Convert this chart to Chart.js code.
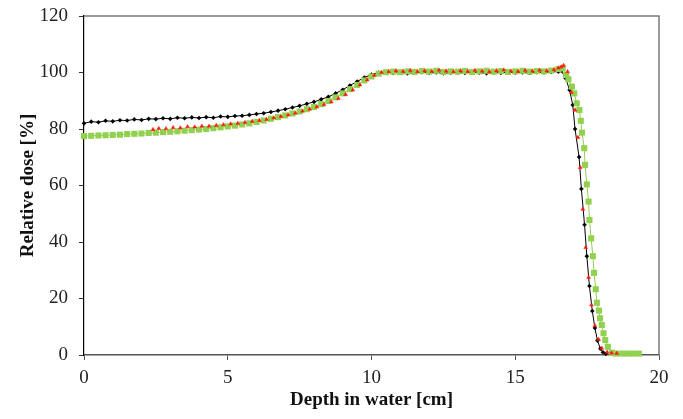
<!DOCTYPE html>
<html>
<head>
<meta charset="utf-8">
<script src="https://cdn.jsdelivr.net/npm/chart.js@4"></script>
<style>
  html, body { margin: 0; padding: 0; background: #fff; }
  #wrap { width: 683px; height: 419px; }
</style>
</head>
<body>
<div id="wrap"><canvas id="myChart" width="683" height="419"></canvas></div>
<script>
// depth [cm] and relative dose [%]
const blackX = [0, 0.25, 0.5, 0.75, 1, 1.25, 1.5, 1.75, 2, 2.25, 2.5, 2.75, 3, 3.25, 3.5, 3.75, 4, 4.25, 4.5, 4.75,
  5, 5.25, 5.5, 5.75, 6, 6.25, 6.5, 6.75, 7, 7.25, 7.5, 7.75, 8, 8.25, 8.5, 8.75, 9, 9.25, 9.5, 9.75,
  10, 10.25, 10.5, 10.75, 11, 11.25, 11.5, 11.75, 12, 12.25, 12.5, 12.75, 13, 13.25, 13.5, 13.75, 14, 14.25, 14.5, 14.75,
  15, 15.25, 15.5, 15.75, 16, 16.25, 16.5, 16.6, 16.75, 16.89, 17, 17.08, 17.22, 17.3, 17.41, 17.49, 17.58, 17.68, 17.77, 17.86,
  17.96, 18.05, 18.15];
const blackY = [82.0, 82.6, 82.4, 82.9, 82.7, 83.1, 83.0, 83.4, 83.2, 83.6, 83.5, 83.8, 83.6, 84.0, 83.8, 84.1, 83.9, 84.2, 84.0, 84.4,
  84.3, 84.6, 84.7, 85.0, 85.3, 85.6, 86.0, 86.5, 87.0, 87.6, 88.2, 88.9, 89.6, 90.5, 91.4, 92.6, 93.9, 95.4, 96.8, 98.2,
  99.3, 100.0, 100.1, 99.8, 100.0, 99.7, 99.9, 100.1, 99.8, 100.0, 99.7, 99.9, 100.0, 99.8, 100.1, 99.9, 99.7, 100.0, 99.8, 100.1,
  99.9, 100.0, 99.8, 100.1, 100.0, 100.2, 100.3, 100.6, 98.0, 93.8, 88.5, 80.0, 70.1, 58.8, 46.1, 35.0, 24.4, 15.6, 9.6, 5.1,
  2.2, 1.0, 0.4];

const greenX = [0, 0.25, 0.5, 0.75, 1, 1.25, 1.5, 1.75, 2, 2.25, 2.5, 2.75, 3, 3.25, 3.5, 3.75, 4, 4.25, 4.5, 4.75,
  5, 5.25, 5.5, 5.75, 6, 6.25, 6.5, 6.75, 7, 7.25, 7.5, 7.75, 8, 8.25, 8.5, 8.75, 9, 9.25, 9.5, 9.75,
  10, 10.25, 10.5, 10.75, 11, 11.25, 11.5, 11.75, 12, 12.25, 12.5, 12.75, 13, 13.25, 13.5, 13.75, 14, 14.25, 14.5, 14.75,
  15, 15.25, 15.5, 15.75, 16, 16.25, 16.5, 16.65, 16.77, 16.85, 16.97, 17.05, 17.14, 17.23, 17.28, 17.32, 17.4, 17.43, 17.49, 17.55,
  17.58, 17.64, 17.7, 17.74, 17.8, 17.84, 17.91, 17.95, 18.01, 18.07, 18.13, 18.22, 18.37, 18.5, 18.7, 18.9, 19.1, 19.3];
const greenY = [77.5, 77.6, 77.7, 77.8, 77.9, 78.0, 78.2, 78.3, 78.4, 78.6, 78.7, 78.9, 79.0, 79.2, 79.4, 79.6, 79.8, 80.0, 80.3, 80.6,
  80.9, 81.2, 81.6, 82.0, 82.5, 83.0, 83.6, 84.2, 84.8, 85.5, 86.2, 87.0, 87.8, 88.8, 89.9, 91.2, 92.6, 94.1, 95.6, 97.2,
  98.6, 99.6, 100.1, 100.3, 100.1, 100.4, 100.2, 100.5, 100.3, 100.6, 100.2, 100.4, 100.3, 100.5, 100.2, 100.4, 100.6, 100.3, 100.5, 100.2,
  100.4, 100.6, 100.3, 100.5, 100.4, 100.7, 101.2, 101.5, 99.1, 97.6, 95.0, 92.6, 89.1, 86.7, 82.9, 78.7, 73.2, 67.3, 60.4, 54.3,
  47.8, 41.3, 35.0, 29.1, 23.3, 18.5, 15.7, 13.0, 10.6, 7.7, 5.3, 2.9, 0.8, 0.5, 0.5, 0.5, 0.5, 0.5];

const redX = [2.4, 2.6, 2.85, 3.1, 3.35, 3.6, 3.85, 4.1, 4.35, 4.6, 4.85, 5.1, 5.35, 5.6, 5.85, 6.1, 6.35, 6.6, 6.85,
  7.1, 7.35, 7.6, 7.85, 8.1, 8.35, 8.6, 8.85, 9.1, 9.35, 9.6, 9.85, 10.1, 10.35, 10.6, 10.85, 11.1, 11.35, 11.6, 11.85,
  12.1, 12.35, 12.6, 12.85, 13.1, 13.35, 13.6, 13.85, 14.1, 14.35, 14.6, 14.85, 15.1, 15.35, 15.6, 15.85, 16.1, 16.35, 16.5, 16.6,
  16.68, 16.82, 16.95, 17.08, 17.18, 17.26, 17.35, 17.45, 17.55, 17.65, 17.77, 17.9, 18.01, 18.2, 18.35, 18.53];
const redY = [79.8, 80.2, 80.1, 80.5, 80.4, 80.8, 80.7, 81.0, 81.0, 81.3, 81.5, 81.8, 82.0, 82.3, 82.7, 83.0, 83.4, 83.9, 84.4,
  85.0, 85.6, 86.3, 87.0, 87.8, 88.6, 89.6, 90.8, 92.2, 93.8, 95.6, 97.4, 99.0, 100.0, 100.3, 100.6, 100.4, 100.7, 100.3, 100.6,
  100.4, 100.8, 100.5, 100.3, 100.6, 100.4, 100.7, 100.5, 100.3, 100.6, 100.9, 100.5, 100.4, 100.7, 100.5, 100.8, 100.6, 101.0, 101.6, 102.0,
  102.5, 100.3, 93.0, 86.7, 77.0, 66.4, 51.6, 38.1, 27.5, 17.7, 10.4, 5.5, 2.4, 1.0, 0.7, 0.6];

const xTicks = [0, 5, 10, 15, 20];
const yTicks = [0, 20, 40, 60, 80, 100, 120];

const toPoints = (xs, ys) => xs.map((x, i) => ({ x: x, y: ys[i] }));

const serif = "'Liberation Serif', 'Times New Roman', serif";

// grey box round the plot area (top and right sides)
const frame = {
  id: 'frame',
  beforeDatasetsDraw(chart) {
    const a = chart.chartArea;
    const c = chart.ctx;
    c.save();
    c.strokeStyle = '#7a7a7a';
    c.lineWidth = 1.5;
    c.beginPath();
    c.moveTo(a.left, a.top);
    c.lineTo(a.right, a.top);
    c.lineTo(a.right, a.bottom);
    c.stroke();
    c.restore();
  }
};

const ctx = document.getElementById('myChart');

new Chart(ctx, {
  type: 'scatter',
  data: {
    datasets: [
      {
        data: toPoints(redX, redY),
        order: 1,
        showLine: false,
        pointStyle: 'triangle',
        pointRadius: 2.2,
        pointBackgroundColor: '#ff1a10',
        pointBorderColor: '#ff1a10',
        pointBorderWidth: 0.5,
        clip: false
      },
      {
        data: toPoints(greenX, greenY),
        order: 2,
        showLine: true,
        borderColor: '#92d050',
        borderWidth: 1,
        pointStyle: 'rect',
        pointRadius: 4.3,
        pointBackgroundColor: '#92d050',
        pointBorderColor: '#92d050',
        pointBorderWidth: 0,
        clip: false
      },
      {
        data: toPoints(blackX, blackY),
        order: 3,
        showLine: true,
        borderColor: '#000',
        borderWidth: 1,
        pointStyle: 'rectRot',
        pointRadius: 2.3,
        pointBackgroundColor: '#000',
        pointBorderColor: '#000',
        pointBorderWidth: 0,
        clip: false
      }
    ]
  },
  options: {
    responsive: false,
    animation: false,
    devicePixelRatio: 1,
    layout: { padding: { left: 13, right: 24, top: 16, bottom: 0 } },
    plugins: {
      legend: { display: false },
      tooltip: { enabled: false }
    },
    scales: {
      x: {
        type: 'linear',
        min: 0,
        max: 20,
        afterBuildTicks: s => { s.ticks = xTicks.map(v => ({ value: v })); },
        afterFit: s => { s.height = 64; s.paddingLeft = 0; s.paddingRight = 0; },
        border: { display: true, color: '#555', width: 1.5 },
        grid: { drawOnChartArea: false, drawTicks: true, tickLength: 5, color: '#555' },
        ticks: { color: '#222', padding: 7, font: { family: serif, size: 19 } },
        title: {
          display: true,
          text: 'Depth in water [cm]',
          color: '#111',
          padding: { top: 0, bottom: 8 },
          font: { family: serif, size: 19, weight: 'bold' }
        }
      },
      y: {
        type: 'linear',
        min: 0,
        max: 120,
        afterBuildTicks: s => { s.ticks = yTicks.map(v => ({ value: v })); },
        afterFit: s => { s.width = 71; s.paddingTop = 0; s.paddingBottom = 0; },
        border: { display: true, color: '#000', width: 1.2 },
        grid: { drawOnChartArea: false, drawTicks: true, tickLength: 5, color: '#333' },
        ticks: { color: '#222', padding: 11, font: { family: serif, size: 19 } },
        title: {
          display: true,
          text: 'Relative dose [%]',
          color: '#111',
          padding: { top: 4, bottom: 0 },
          font: { family: serif, size: 19, weight: 'bold' }
        }
      }
    }
  },
  plugins: [frame]
});
</script>
</body>
</html>
